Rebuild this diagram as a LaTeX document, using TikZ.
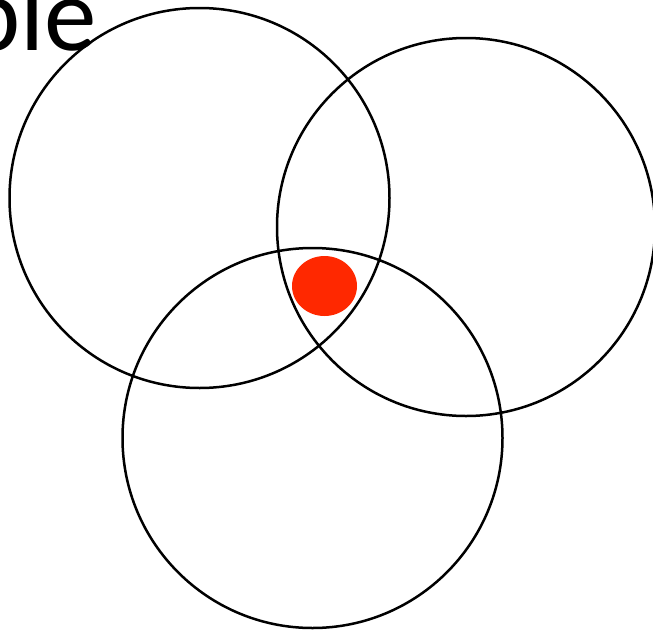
\documentclass[tikz,border=0pt]{standalone}
\usepackage{fontspec}
\setmainfont{Carlito}
\usepackage{tikz}
\usetikzlibrary{positioning}
\definecolor{dotred}{RGB}{255,40,0}

\begin{document}
\begin{tikzpicture}[
    x=1pt, y=-1pt,
    ring/.style={draw, line width=2.5pt},
    spot/.style={fill=#1, draw=none},
    spot/.default={dotred}
]
\useasboundingbox (0,0) rectangle (653,632);
\clip (0,0) rectangle (653,632);

% Title fragment
\node[anchor=base west, inner sep=0pt, font=\fontsize{105}{105}\selectfont] (title) at (-35,50) {ple};

% Circles
\draw[ring] (199.5,198) circle (190);
\draw[ring] (466,227) circle (189);
\draw[ring] (312.5,438) circle (190);

% Common point
\fill[spot] (324.5,286) ellipse (32.5 and 30);

\end{tikzpicture}
\end{document}
